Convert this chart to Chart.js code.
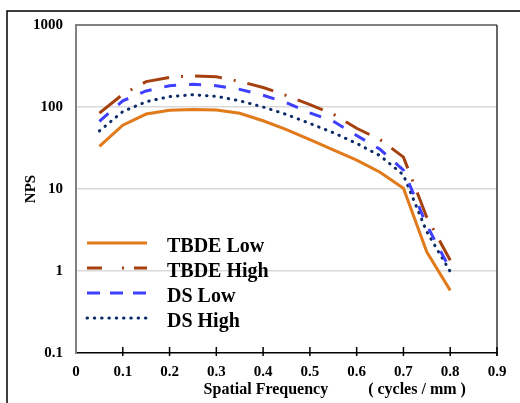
<!DOCTYPE html>
<html>
<head>
<meta charset="utf-8">
<script src="https://cdn.jsdelivr.net/npm/chart.js@4.4.0/dist/chart.umd.min.js"></script>
<style>
  html, body { margin: 0; padding: 0; background: #fff; }
  #nps { display: block; }
</style>
</head>
<body>
<canvas id="nps" width="520" height="403"></canvas>
<script>
/* ----------------------------------------------------------- */
/* DATA                                */
/* ----------------------------------------------------------- */
const freq      = [0.05, 0.1, 0.15, 0.2, 0.25, 0.3, 0.35, 0.4, 0.45, 0.5, 0.55, 0.6, 0.65, 0.7, 0.75, 0.8];
const tbdeLow   = [33, 60, 82, 91, 93, 92, 84, 68, 53, 40, 30, 22.5, 16, 10.2, 1.7, 0.58];
const tbdeHigh  = [84, 143, 204, 230, 240, 234, 205, 173, 138, 107, 82, 55, 40, 24.5, 4.5, 1.35];
const dsLow     = [67, 119, 157, 182, 189, 182, 164, 139, 113, 85, 67, 45, 30.5, 17, 3.6, 1.05];
const dsHigh    = [51, 88, 116, 134, 141, 135, 119, 100, 81, 63, 48.6, 36, 25.5, 14.8, 3.0, 0.98];
const seriesNames = ['TBDE Low', 'TBDE High', 'DS Low', 'DS High'];
const xTicks = [0, 0.1, 0.2, 0.3, 0.4, 0.5, 0.6, 0.7, 0.8, 0.9];
const yTicks = [0.1, 1, 10, 100, 1000];

(function () {
  'use strict';

  const SERIF = '"Liberation Serif", "Times New Roman", serif';
  const pts = vals => vals.map((v, i) => ({ x: freq[i], y: v }));

  // legend samples use a shorter pattern than the plotted lines
  const legendDash = [[], [15, 20, 2, 10], [13, 10], [0.5, 6.8]];

  /* ----------------------------------------------------------- */
  /* FRAME, TICK MARKS, X TITLE, LEGEND                           */
  /* ----------------------------------------------------------- */
  const decor = {
    id: 'decor',
    beforeDraw(chart) {
      const c = chart.ctx;
      c.save();
      c.fillStyle = '#fff';
      c.fillRect(0, 0, chart.width, chart.height);
      c.strokeStyle = '#000';
      c.lineWidth = 1.5;
      c.beginPath();
      c.moveTo(7, chart.height);
      c.lineTo(7, 11);
      c.lineTo(chart.width, 11);
      c.stroke();
      c.restore();
    },
    afterDraw(chart) {
      const c = chart.ctx;
      const a = chart.chartArea;
      const xs = chart.scales.x;
      c.save();

      // right edge of the plot box
      c.strokeStyle = '#333';
      c.lineWidth = 1.5;
      c.beginPath();
      c.moveTo(a.right, a.top);
      c.lineTo(a.right, a.bottom + 3);
      c.stroke();

      // tick marks crossing the x axis
      c.strokeStyle = '#000';
      xTicks.forEach(v => {
        if (v === 0) return;
        const px = xs.getPixelForValue(v);
        c.beginPath();
        c.moveTo(px, a.bottom - 6);
        c.lineTo(px, a.bottom + 3);
        c.stroke();
      });

      // x axis title, in two pieces
      c.fillStyle = '#000';
      c.font = 'bold 16px ' + SERIF;
      c.textAlign = 'center';
      c.textBaseline = 'middle';
      c.fillText('Spatial Frequency', xs.getPixelForValue(0.406), 390);
      c.fillText('( cycles / mm )', xs.getPixelForValue(0.729), 390);

      // legend inside the plot
      c.font = 'bold 20px ' + SERIF;
      c.textAlign = 'left';
      c.textBaseline = 'alphabetic';
      chart.data.datasets.forEach((ds, i) => {
        const ty = 252 + i * 25;
        const ly = ty - 9;
        c.strokeStyle = ds.borderColor;
        c.lineWidth = 3;
        c.lineCap = i === 3 ? 'round' : 'butt';
        c.setLineDash(legendDash[i]);
        c.beginPath();
        c.moveTo(a.left + 11, ly);
        c.lineTo(a.left + 71, ly);
        c.stroke();
        c.setLineDash([]);
        c.fillStyle = '#000';
        c.fillText(ds.label, a.left + 91, ty);
      });
      c.restore();
    }
  };

  /* ----------------------------------------------------------- */
  /* CHART                                                        */
  /* ----------------------------------------------------------- */
  const line = (label, data, color, dash, cap) => ({
    label: label,
    data: pts(data),
    borderColor: color,
    borderWidth: 3,
    borderDash: dash,
    borderCapStyle: cap || 'butt',
    pointRadius: 0,
    tension: 0,
    fill: false
  });

  new Chart(document.getElementById('nps').getContext('2d'), {
    type: 'line',
    data: {
      datasets: [
        line(seriesNames[0], tbdeLow, '#E07A1A', []),
        line(seriesNames[1], tbdeHigh, '#A5400F', [27, 12, 2, 12]),
        line(seriesNames[2], dsLow, '#3F3FFF', [12, 13]),
        line(seriesNames[3], dsHigh, '#0B2A66', [0.5, 6.8], 'round')
      ]
    },
    options: {
      responsive: false,
      animation: false,
      layout: { padding: { top: 25, right: 23, left: 0, bottom: 0 } },
      scales: {
        x: {
          type: 'linear',
          min: 0,
          max: 0.9,
          afterBuildTicks: s => { s.ticks = xTicks.map(v => ({ value: v })); },
          afterFit: s => { s.height = 50; },
          grid: { display: false, drawTicks: false },
          border: { color: '#000', width: 1.5 },
          ticks: {
            padding: 10,
            color: '#000',
            font: { family: SERIF, size: 15, weight: 'bold' },
            callback: v => String(Math.round(v * 10) / 10)
          }
        },
        y: {
          type: 'logarithmic',
          min: 0.1,
          max: 1000,
          afterBuildTicks: s => { s.ticks = yTicks.map(v => ({ value: v })); },
          afterFit: s => { s.width = 76; },
          grid: {
            drawTicks: false,
            lineWidth: ctx => (ctx.tick && ctx.tick.value === 1000 ? 2 : 1.5),
            color: ctx => {
              if (!ctx.tick) return '#d9d9d9';
              if (ctx.tick.value === 1000) return '#808080';
              if (ctx.tick.value === 0.1) return 'rgba(0,0,0,0)';
              return '#d9d9d9';
            }
          },
          border: { color: '#808080', width: 2 },
          ticks: {
            padding: 13,
            color: '#000',
            font: { family: SERIF, size: 15, weight: 'bold' },
            callback: v => String(v)
          },
          title: {
            display: true,
            text: 'NPS',
            color: '#000',
            padding: { top: 22, bottom: 0 },
            font: { family: SERIF, size: 15, weight: 'bold' }
          }
        }
      },
      plugins: {
        legend: { display: false },
        tooltip: { enabled: false }
      }
    },
    plugins: [decor]
  });
})();
</script>
</body>
</html>
